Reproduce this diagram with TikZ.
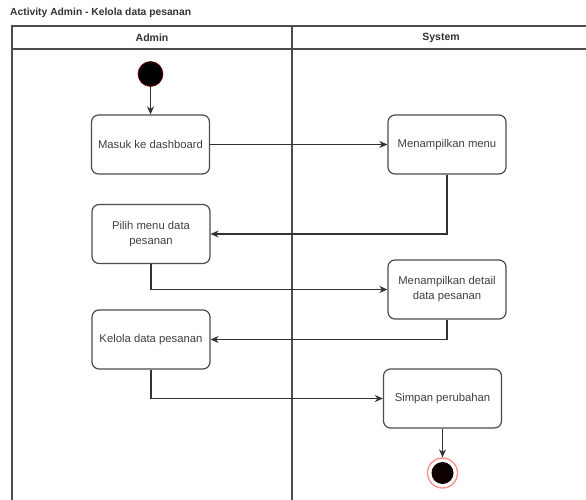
\documentclass[tikz,border=0pt]{standalone}
\usepackage{fontspec}
\setmainfont{Liberation Sans}
\usetikzlibrary{arrows.meta}
\begin{document}
\begin{tikzpicture}[x=1pt,y=-1pt,
  lane/.style={draw=black!70, line width=1.3pt},
  act/.style={draw=black!70, line width=1.2pt, rounded corners=7pt, minimum width=118pt, minimum height=59pt, align=center, inner sep=2pt, font=\fontsize{11.3}{15}\selectfont, text=black!75, fill=white},
  flow/.style={draw=black!80, line width=1.1pt, -{Stealth[length=8pt,width=7pt]}},
  lanehead/.style={font=\bfseries\fontsize{10.5}{13}\selectfont, text=black!80},
  startnode/.style={circle, fill=black, draw=red!50!black, line width=0.6pt, minimum size=25pt, inner sep=0pt},
  endouter/.style={circle, fill=white, draw=red!45, line width=1.3pt, minimum size=30pt, inner sep=0pt},
  endinner/.style={circle, fill=black!95!red, minimum size=22pt, inner sep=0pt}]
\useasboundingbox (0,0) rectangle (586,500);
\fill[white] (0,0) rectangle (586,500);
% title
\node[anchor=west, font=\bfseries\fontsize{10.3}{12}\selectfont, text=black!80, inner sep=0pt] (title) at (10,13) {Activity Admin - Kelola data pesanan};
% swimlanes
\draw[lane] (12,500) -- (12,26) -- (590,26);
\draw[lane] (12,49) -- (590,49);
\draw[lane] (292,26) -- (292,500);
\node[lanehead] (hadmin) at (152,37.5) {Admin};
\node[lanehead] (hsystem) at (441,37.5) {System};
% nodes
\node[startnode] (start) at (150.5,74) {};
\node[act] (masuk) at (150.5,144.5) {Masuk ke dashboard};
\node[act] (menu) at (447,144.5) {Menampilkan menu};
\node[act] (pilih) at (151,234) {Pilih menu data\\pesanan};
\node[act] (detail) at (447,289.5) {Menampilkan detail\\data pesanan};
\node[act] (kelola) at (151,339.5) {Kelola data pesanan};
\node[act] (simpan) at (442.5,398.5) {Simpan perubahan};
\node[endouter] (endo) at (442.5,473) {};
\node[endinner] (endi) at (442.5,473) {};
% connectors
\draw[flow] (start) -- (masuk);
\draw[flow] (masuk) -- (menu);
\draw[flow] (menu.south) |- (pilih.east);
\draw[flow] (pilih.south) |- (detail.west);
\draw[flow] (detail.south) |- (kelola.east);
\draw[flow] (kelola.south) |- (simpan.west);
\draw[flow] (simpan) -- (endo);
\end{tikzpicture}
\end{document}
